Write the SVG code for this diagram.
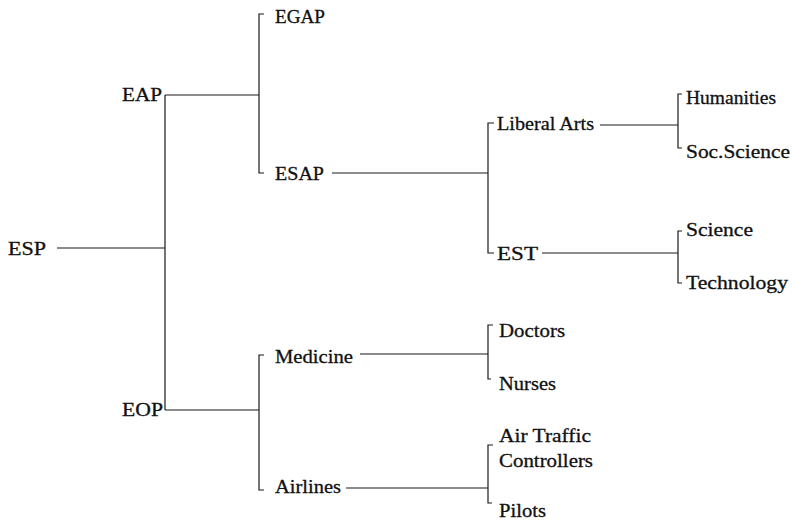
<svg xmlns="http://www.w3.org/2000/svg" width="792" height="520" viewBox="0 0 792 520">
<style>
text{font-family:"Liberation Serif","Times New Roman",serif;font-size:19px;fill:#111;stroke:#111;stroke-width:0.3}
.c path{fill:none;stroke:#1a1a1a;stroke-width:1.2}
</style>
<rect width="792" height="520" fill="#fff"/>
<g class="c" id="connectors">
<path d="M57 248H165M165 95V410M165 95H259M165 410H259"/>
<path d="M264 14H259V173H264M332 173H488"/>
<path d="M494 123H488V253H494M600 125H678M542 253H678"/>
<path d="M682 94H678V148H682M682 231H678V283H682"/>
<path d="M264 355H259V490H264M360 354H488M346 488H488"/>
<path d="M493 325H488V379H491M493 445H488V503H492"/>
</g>
<g id="ESP"><text x="8" y="255" textLength="38" lengthAdjust="spacingAndGlyphs">ESP</text></g>
<g id="EAP"><text x="122" y="101" textLength="40" lengthAdjust="spacingAndGlyphs">EAP</text></g>
<g id="EOP"><text x="122" y="416" textLength="41" lengthAdjust="spacingAndGlyphs">EOP</text></g>
<g id="EGAP"><text x="275" y="23" textLength="50" lengthAdjust="spacingAndGlyphs">EGAP</text></g>
<g id="ESAP"><text x="275" y="180" textLength="49" lengthAdjust="spacingAndGlyphs">ESAP</text></g>
<g id="LiberalArts"><text x="497" y="130" textLength="97" lengthAdjust="spacingAndGlyphs">Liberal Arts</text></g>
<g id="EST"><text x="497" y="260" textLength="41" lengthAdjust="spacingAndGlyphs">EST</text></g>
<g id="Humanities"><text x="686" y="104" textLength="90" lengthAdjust="spacingAndGlyphs">Humanities</text></g>
<g id="SocScience"><text x="686" y="158" textLength="104" lengthAdjust="spacingAndGlyphs">Soc.Science</text></g>
<g id="Science"><text x="686" y="236" textLength="67" lengthAdjust="spacingAndGlyphs">Science</text></g>
<g id="Technology"><text x="686" y="289" textLength="102" lengthAdjust="spacingAndGlyphs">Technology</text></g>
<g id="Medicine"><text x="275" y="363" textLength="78" lengthAdjust="spacingAndGlyphs">Medicine</text></g>
<g id="Airlines"><text x="275" y="493" textLength="66" lengthAdjust="spacingAndGlyphs">Airlines</text></g>
<g id="Doctors"><text x="499" y="337" textLength="66" lengthAdjust="spacingAndGlyphs">Doctors</text></g>
<g id="Nurses"><text x="499" y="390" textLength="57" lengthAdjust="spacingAndGlyphs">Nurses</text></g>
<g id="AirTrafficControllers"><text x="499" y="442" textLength="92" lengthAdjust="spacingAndGlyphs">Air Traffic</text><text x="499" y="467" textLength="94" lengthAdjust="spacingAndGlyphs">Controllers</text></g>
<g id="Pilots"><text x="499" y="517" textLength="47" lengthAdjust="spacingAndGlyphs">Pilots</text></g>
</svg>
